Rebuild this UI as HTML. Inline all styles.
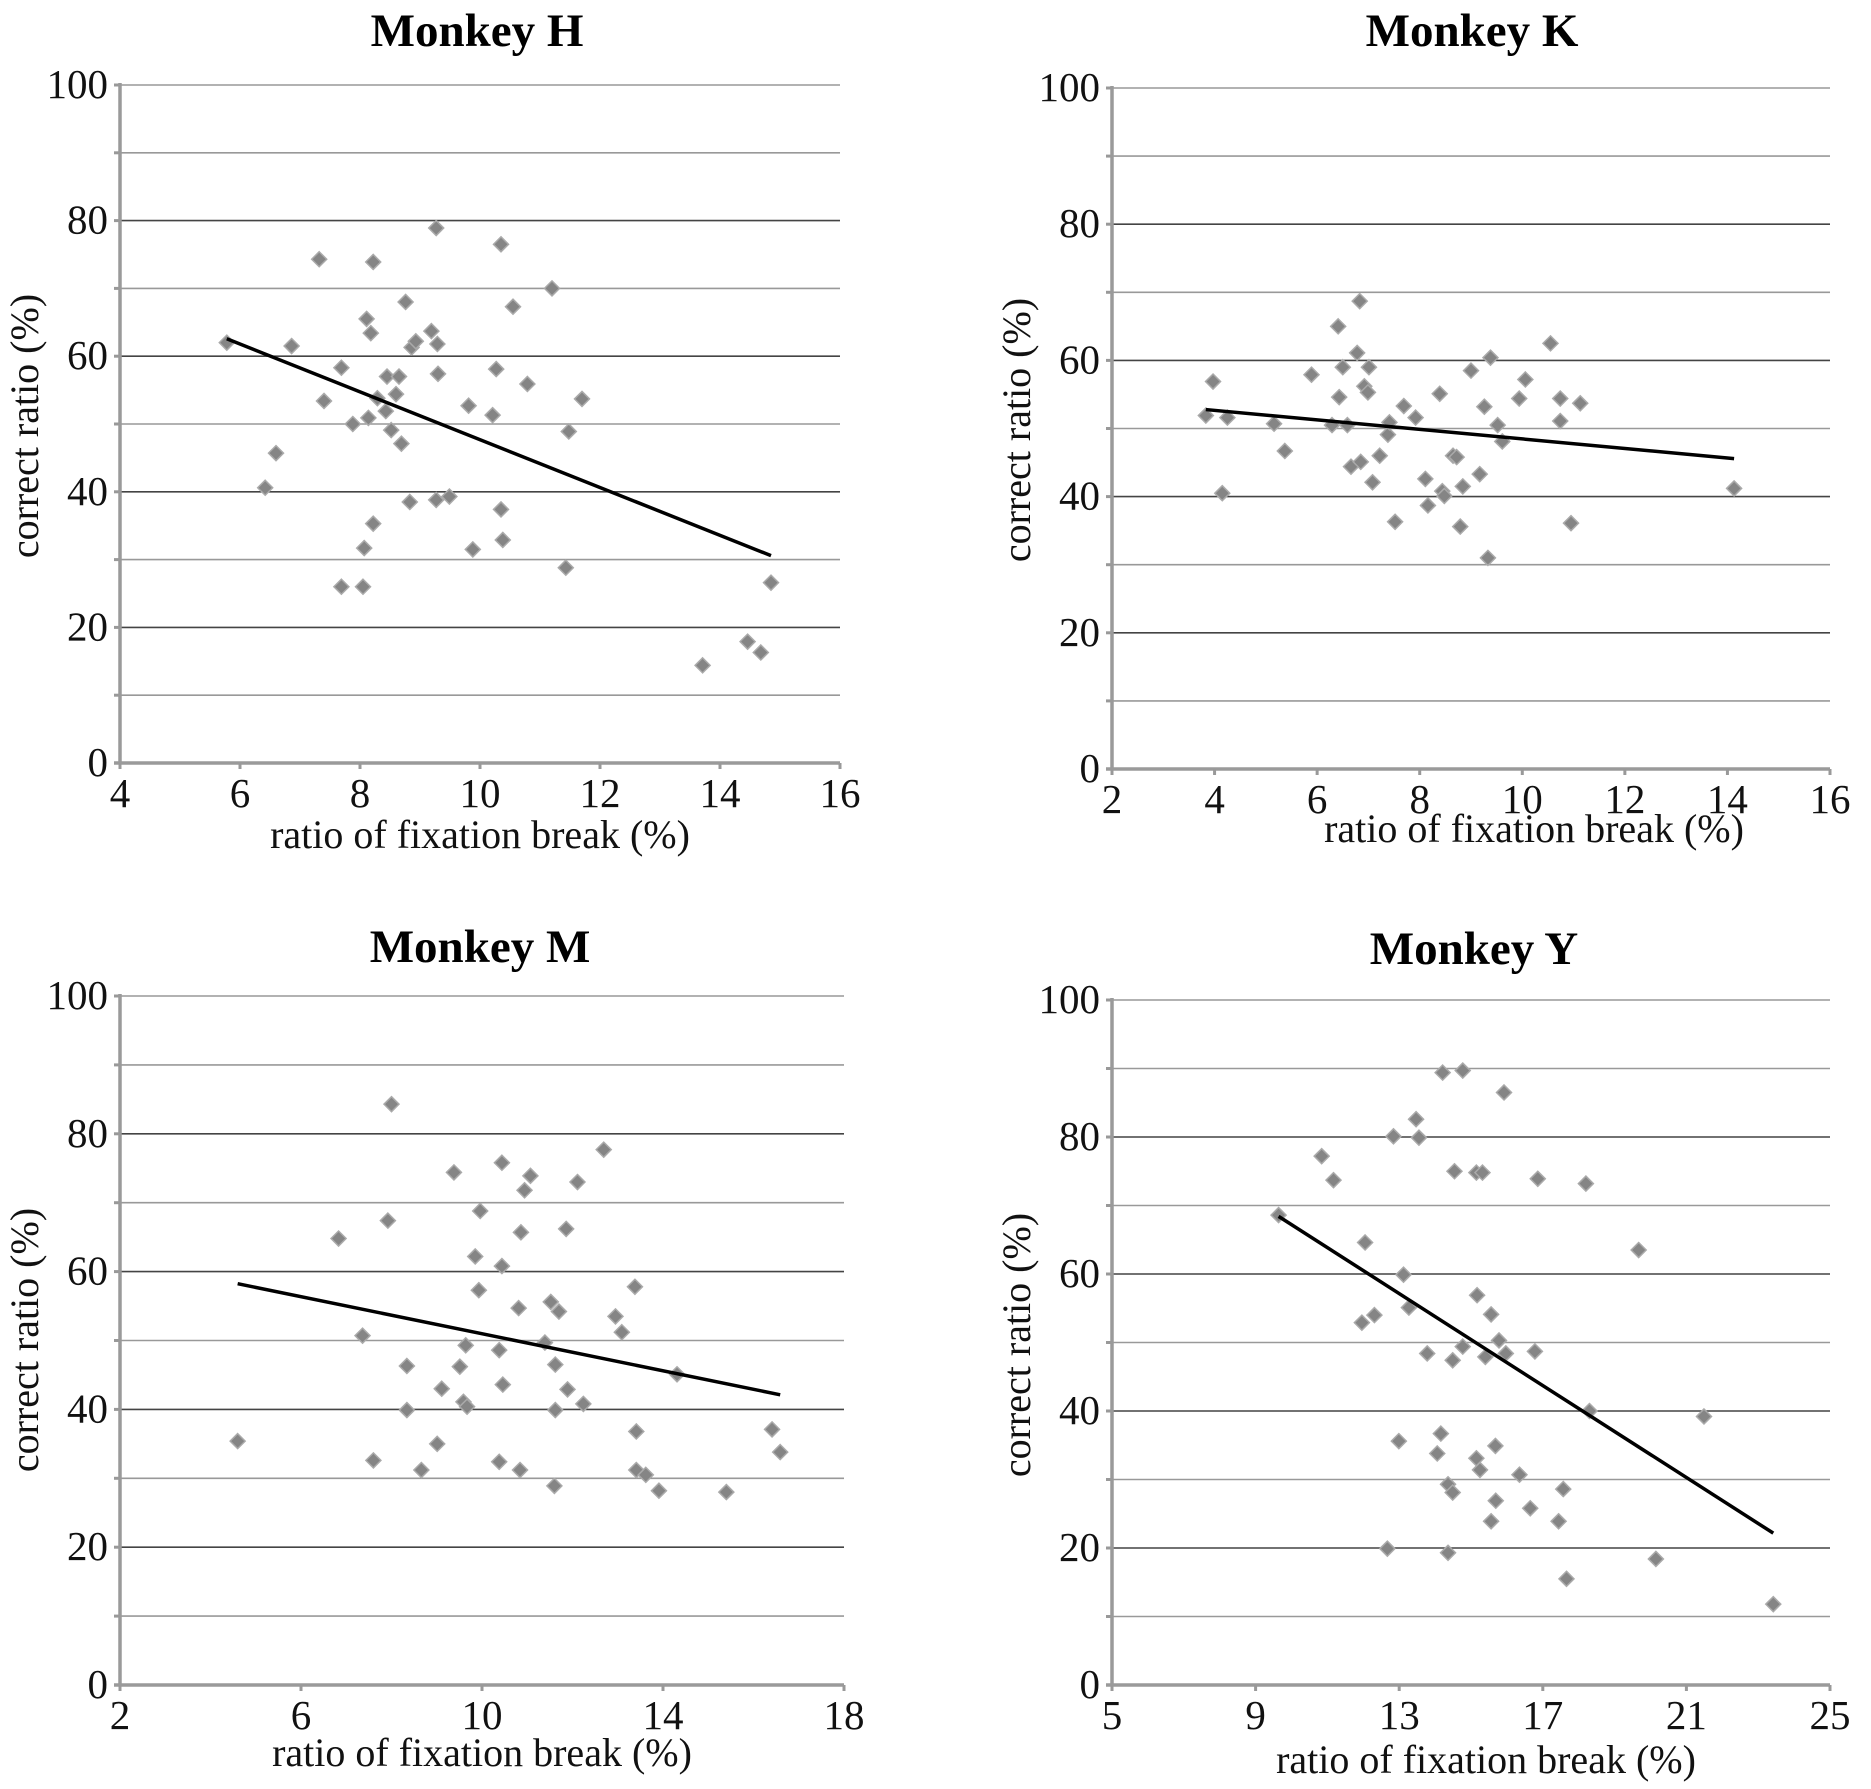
<!DOCTYPE html>
<html><head><meta charset="utf-8"><style>
html,body{margin:0;padding:0;background:#fff;}
svg{display:block;}
svg text{font-family:"Liberation Serif","DejaVu Serif",serif;}
</style></head><body>
<svg id="fig" width="1871" height="1789" viewBox="0 0 1871 1789" xmlns="http://www.w3.org/2000/svg"></svg>
<script>
// ---- data ----
const hX=[5.78,6.42,6.60,6.86,7.32,7.40,7.69,7.69,7.88,8.05,8.07,8.11,8.14,8.18,8.22,8.22,8.29,8.43,8.45,8.52,8.60,8.65,8.69,8.76,8.83,8.86,8.93,9.19,9.27,9.27,9.29,9.30,9.49,9.81,9.88,10.21,10.27,10.35,10.35,10.38,10.55,10.79,11.20,11.43,11.48,11.70,13.71,14.46,14.68,14.85];
const hY=[62.0,40.6,45.7,61.5,74.3,53.4,58.3,26.0,50.0,26.0,31.7,65.5,50.9,63.4,73.9,35.3,53.8,51.9,57.0,49.1,54.4,57.0,47.1,68.0,38.5,61.3,62.2,63.7,78.9,38.8,61.8,57.4,39.3,52.7,31.5,51.3,58.1,76.5,37.4,32.9,67.3,55.9,70.0,28.8,48.9,53.7,14.4,17.9,16.3,26.6];
const kX=[3.83,3.97,4.15,4.25,5.16,5.37,5.89,6.29,6.41,6.43,6.50,6.59,6.66,6.78,6.83,6.85,6.92,6.99,7.01,7.08,7.22,7.38,7.41,7.52,7.69,7.92,8.11,8.16,8.39,8.44,8.48,8.65,8.72,8.79,8.84,9.00,9.17,9.26,9.33,9.38,9.52,9.61,9.94,10.06,10.55,10.74,10.74,10.95,11.13,14.13];
const kY=[51.9,56.9,40.5,51.6,50.7,46.7,57.9,50.5,65.0,54.6,59.0,50.5,44.4,61.1,68.7,45.1,56.2,55.3,59.0,42.1,46.0,49.1,50.9,36.3,53.3,51.6,42.6,38.7,55.1,40.8,40.1,46.0,45.8,35.6,41.5,58.5,43.3,53.2,31.0,60.4,50.5,48.1,54.4,57.2,62.5,54.4,51.1,36.1,53.7,41.2];
const mX=[4.60,6.83,7.36,7.60,7.92,8.00,8.34,8.34,8.66,9.01,9.11,9.38,9.51,9.59,9.64,9.67,9.85,9.93,9.96,10.38,10.38,10.44,10.44,10.46,10.81,10.84,10.86,10.94,11.07,11.39,11.52,11.60,11.62,11.62,11.70,11.86,11.89,12.11,12.24,12.69,12.95,13.09,13.38,13.41,13.41,13.62,13.91,14.31,15.40,16.41,16.59];
const mY=[35.4,64.8,50.7,32.6,67.4,84.3,46.3,39.9,31.2,35.0,43.0,74.4,46.2,41.1,49.3,40.4,62.2,57.3,68.8,32.4,48.6,75.8,60.8,43.6,54.7,31.2,65.7,71.8,73.9,49.7,55.6,28.9,39.9,46.5,54.2,66.2,42.9,73.0,40.8,77.7,53.5,51.2,57.8,36.8,31.2,30.5,28.2,45.1,28.0,37.1,33.8];
const yX=[9.64,10.84,11.17,11.96,12.05,12.31,12.67,12.84,12.99,13.12,13.27,13.47,13.55,13.78,14.06,14.16,14.21,14.36,14.36,14.49,14.49,14.54,14.77,14.77,15.15,15.15,15.17,15.25,15.32,15.40,15.56,15.56,15.68,15.69,15.78,15.92,15.97,16.35,16.65,16.78,16.86,17.44,17.57,17.66,18.20,18.30,19.67,20.15,21.49,23.42];
const yY=[68.6,77.2,73.7,52.9,64.6,54.0,19.9,80.1,35.6,59.9,55.1,82.6,79.9,48.4,33.8,36.7,89.4,29.3,19.3,28.1,47.4,75.0,89.7,49.4,33.1,74.8,56.9,31.4,74.8,47.9,54.1,23.9,34.9,26.9,50.3,86.5,48.4,30.7,25.8,48.7,73.9,23.9,28.6,15.5,73.2,40.0,63.5,18.4,39.2,11.8];
const hTicks=[4,6,8,10,12,14,16];
const kTicks=[2,4,6,8,10,12,14,16];
const mTicks=[2,6,10,14,18];
const yTicks=[5,9,13,17,21,25];
const yTickLabels=[0,20,40,60,80,100];

const NS="http://www.w3.org/2000/svg";
const svg=document.getElementById('fig');
const FF='"Liberation Serif","DejaVu Serif",serif';
function el(tag,attrs,parent){const e=document.createElementNS(NS,tag);for(const k in attrs)e.setAttribute(k,attrs[k]);if(tag==='text')e.setAttribute('font-family',FF);(parent||svg).appendChild(e);return e;}

function panel(id,title,xs,ys,ticks,L,R,T,B,titleX,titleY,ylabX,ylabY,xlabX,xlabY){
  const g=el('g',{});
  
  
  const xmin=ticks[0],xmax=ticks[ticks.length-1];
  const sx=v=>L+(v-xmin)/(xmax-xmin)*(R-L);
  const sy=v=>B-v/100*(B-T);
  for(let v=10;v<=100;v+=10){
    const ln=el('line',{x1:L,x2:R,y1:sy(v),y2:sy(v),stroke:(v%20===0&&v<100)?'#444':'#999','stroke-width':1.6},g);
    
    
    el('line',{x1:L-6,x2:L,y1:sy(v),y2:sy(v),stroke:'#999','stroke-width':3},g);
  }
  const ya=el('line',{x1:L,x2:L,y1:T-2,y2:B,stroke:'#9a9a9a','stroke-width':3.5},g);
  
  
  const xa=el('line',{x1:L-6,x2:R,y1:B,y2:B,stroke:'#9a9a9a','stroke-width':3.5},g);
  
  
  ticks.forEach(t=>{
    el('line',{x1:sx(t),x2:sx(t),y1:B,y2:B+6,stroke:'#999','stroke-width':3},g);
    const tx=el('text',{x:sx(t),y:B+44,'text-anchor':'middle','font-size':41,fill:'#111'},g);
    tx.textContent=t;
    
    
  });
  yTickLabels.forEach(t=>{
    const tx=el('text',{x:L-12,y:sy(t)+13,'text-anchor':'end','font-size':41,fill:'#111'},g);
    tx.textContent=t;
    
    
  });
  const tt=el('text',{x:titleX,y:titleY,'text-anchor':'middle','font-size':47,'font-weight':'bold',fill:'#000'},g);
  tt.textContent=title;
  
  
  const yl=el('text',{x:0,y:0,'text-anchor':'middle','font-size':40,fill:'#111',transform:`translate(${ylabX},${ylabY}) rotate(-90)`},g);
  yl.textContent='correct ratio (%)';
  
  
  const xl=el('text',{x:xlabX,y:xlabY,'text-anchor':'middle','font-size':40,fill:'#111'},g);
  xl.textContent='ratio of fixation break (%)';
  
  
  for(let i=0;i<xs.length;i++){
    const cx=sx(xs[i]),cy=sy(ys[i]),r=7.5;
    const p=el('polygon',{points:`${cx},${cy-r} ${cx+r},${cy} ${cx},${cy+r} ${cx-r},${cy}`,fill:'#858585',stroke:'#aaa','stroke-width':1.5},g);
    
    
  }
  const n=xs.length;let mx=0,my=0;for(let i=0;i<n;i++){mx+=xs[i];my+=ys[i];}mx/=n;my/=n;
  let sxy=0,sxx=0;for(let i=0;i<n;i++){sxy+=(xs[i]-mx)*(ys[i]-my);sxx+=(xs[i]-mx)**2;}
  const b=sxy/sxx,a=my-b*mx;
  const x0=Math.min(...xs),x1=Math.max(...xs);
  const tl=el('line',{x1:sx(x0),y1:sy(a+b*x0),x2:sx(x1),y2:sy(a+b*x1),stroke:'#000','stroke-width':3.5},g);
  
  
}
panel('monkey-h','Monkey H',hX,hY,hTicks,120,840,85,763,477,46,38,426,480,848);
panel('monkey-k','Monkey K',kX,kY,kTicks,1112,1830,88,769,1472,46,1030,430,1534,842);
panel('monkey-m','Monkey M',mX,mY,mTicks,120,844,996,1685,480,962,38,1340,482,1766);
panel('monkey-y','Monkey Y',yX,yY,yTicks,1112,1830,1000,1685,1474,964,1030,1345,1486,1773);
</script>
</body></html>
